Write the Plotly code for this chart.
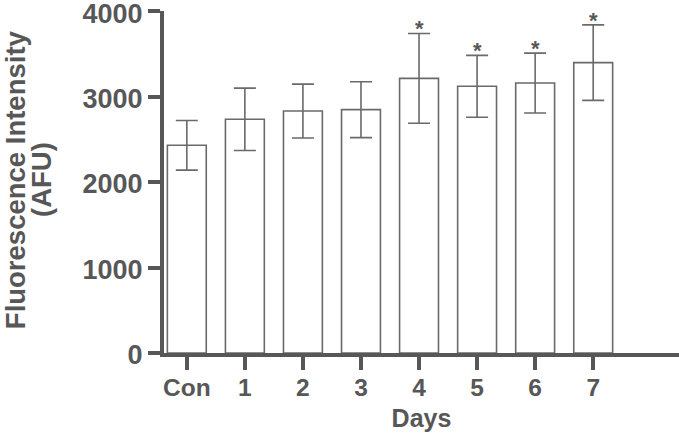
import plotly.graph_objects as go

categories = ["Con", "1", "2", "3", "4", "5", "6", "7"]
means = [2430, 2734, 2831, 2847, 3213, 3120, 3158, 3397]
errors = [290, 365, 315, 327, 525, 362, 350, 442]
significant = [False, False, False, False, True, True, True, True]
y_ticks = [0, 1000, 2000, 3000, 4000]
y_title_lines = ["Fluorescence Intensity", "(AFU)"]

AX = "#575757"
BAR = "#6a6a6a"
FONT = "Liberation Sans, Arial, sans-serif"

x_pos = list(range(len(categories)))

fig = go.Figure()
fig.add_trace(go.Bar(
    x=x_pos, y=means, width=0.67,
    marker=dict(color="white", line=dict(color=BAR, width=1.6)),
    error_y=dict(type="data", array=errors, visible=True, color=BAR, thickness=1.6, width=11),
    hoverinfo="skip",
))

for xi, m, e, s in zip(x_pos, means, errors, significant):
    if s:
        fig.add_annotation(x=xi, y=m + e, text="*", showarrow=False,
                           yanchor="bottom", yshift=-10,
                           font=dict(family=FONT, size=22, color=AX))

# y-axis title, two lines placed individually
for txt, xp in zip(y_title_lines, [-0.2895, -0.2375]):
    fig.add_annotation(x=xp, y=0.508, xref="paper", yref="paper", text=txt,
                       textangle=-90, showarrow=False, xanchor="center", yanchor="middle",
                       font=dict(family=FONT, size=27.5, color=AX, weight="bold"))

fig.update_layout(
    width=679, height=434,
    margin=dict(l=164, r=0, t=11, b=81, autoexpand=False),
    plot_bgcolor="white", paper_bgcolor="white",
    showlegend=False,
    font=dict(family=FONT, color=AX, weight="bold"),
)
fig.update_xaxes(
    range=[-0.393, 8.478], tickmode="array", tickvals=x_pos, ticktext=categories,
    showline=True, linecolor=AX, linewidth=4, ticks="outside", ticklen=13, tickwidth=4,
    tickcolor=AX, tickfont=dict(family=FONT, size=24.5, color=AX, weight="bold"),
    ticklabelstandoff=-3,
    showgrid=False, zeroline=False, automargin=False,
    title=dict(text="Days", font=dict(family=FONT, size=25, color=AX, weight="bold"), standoff=10),
)
fig.update_yaxes(
    range=[0, 4001], tickmode="array", tickvals=y_ticks, ticklabeloverflow="allow",
    ticklabelshift=2,
    showline=True, linecolor=AX, linewidth=4, ticks="outside", ticklen=12, tickwidth=4,
    tickcolor=AX, tickfont=dict(family=FONT, size=27, color=AX, weight="bold"),
    showgrid=False, zeroline=False, automargin=False,
)

fig.write_html("out.html", config={"displayModeBar": False},
               post_script="document.body.style.margin='0';document.body.style.overflow='hidden';")
